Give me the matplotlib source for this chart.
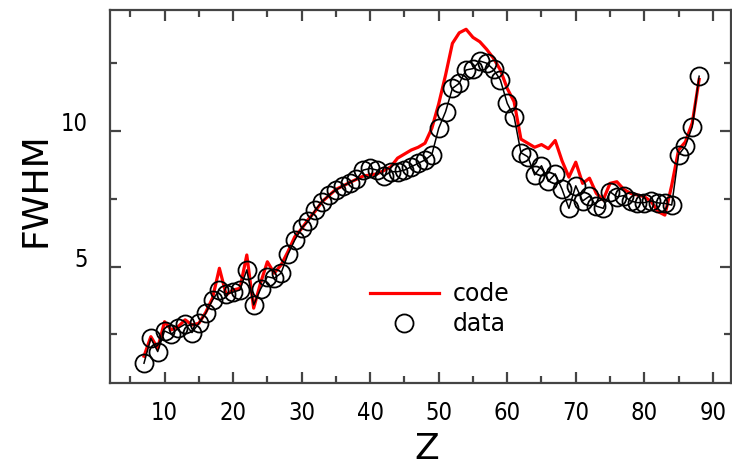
import matplotlib
matplotlib.use("Agg")
import matplotlib.pyplot as plt
from matplotlib.ticker import MultipleLocator

# atomic number
z = list(range(7, 89))

# measured widths (open circles)
fwhm_data = [
    1.44, 2.36, 1.87, 2.63, 2.51, 2.73, 2.88, 2.57, 2.91, 3.28,   # 7-16
    3.77, 4.14, 3.99, 4.06, 4.14, 4.88, 3.59, 4.17, 4.63, 4.57,   # 17-26
    4.76, 5.45, 5.98, 6.42, 6.68, 7.09, 7.40, 7.64, 7.83, 7.97,   # 27-36
    8.10, 8.22, 8.56, 8.62, 8.56, 8.34, 8.50, 8.50, 8.56, 8.68,   # 37-46
    8.81, 8.93, 9.13, 10.10, 10.71, 11.57, 11.76, 12.25, 12.30, 12.58,  # 47-56
    12.50, 12.27, 11.88, 11.02, 10.53, 9.20, 9.05, 8.38, 8.72, 8.14,   # 57-66
    8.42, 7.85, 7.15, 7.98, 7.42, 7.60, 7.23, 7.15, 7.76, 7.57,   # 67-76
    7.62, 7.42, 7.36, 7.36, 7.42, 7.35, 7.33, 7.27, 9.12, 9.45,   # 77-86
    10.16, 12.02,                                                 # 87-88
]

# calculated widths (red line)
fwhm_code = [
    1.70, 2.42, 1.99, 2.97, 2.67, 2.79, 3.04, 2.85, 2.91, 3.31,   # 7-16
    3.84, 4.94, 3.96, 4.14, 4.20, 5.43, 3.47, 4.39, 5.18, 4.76,   # 17-26
    5.06, 5.55, 6.10, 6.40, 6.75, 7.05, 7.40, 7.62, 7.85, 7.97,   # 27-36
    8.10, 8.22, 8.34, 8.38, 8.42, 8.54, 8.68, 9.00, 9.15, 9.30,   # 37-46
    9.40, 9.55, 10.10, 11.00, 12.06, 13.23, 13.62, 13.75, 13.45, 13.29,  # 47-56
    13.01, 12.68, 12.25, 11.57, 11.08, 9.70, 9.55, 9.40, 9.50, 9.35,   # 57-66
    9.65, 8.90, 8.30, 8.85, 8.07, 8.26, 7.70, 7.46, 8.07, 8.13,   # 67-76
    7.85, 7.70, 7.64, 7.58, 7.40, 7.03, 6.90, 8.00, 9.30, 9.60,   # 77-86
    10.30, 11.90,                                                 # 87-88
]

FRAME = "#444444"

fig = plt.figure(figsize=(7.32, 4.68), dpi=100, facecolor="white")
ax = fig.add_axes([0.1499, 0.181, 0.8492, 0.7976])

ax.plot(z, fwhm_code, color="#ff0000", lw=2.3, label="code", zorder=2)
ax.plot(z, fwhm_data, color="black", lw=1.1, marker="o", ms=13,
        mfc="none", mec="black", mew=1.3, zorder=3)
# legend entry for the circles only
ax.plot([], [], ls="none", marker="o", ms=13, mfc="none", mec="black",
        mew=1.3, label="data")

ax.set_xlim(2.0, 92.7)
ax.set_ylim(0.7, 14.46)

ax.xaxis.set_major_locator(MultipleLocator(10))
ax.xaxis.set_minor_locator(MultipleLocator(5))
ax.yaxis.set_major_locator(MultipleLocator(5))
ax.yaxis.set_minor_locator(MultipleLocator(2.5))

for spine in ax.spines.values():
    spine.set_color(FRAME)
    spine.set_linewidth(1.6)
ax.tick_params(which="both", direction="in", top=True, right=True,
               color=FRAME, width=1.6, labelsize=17)
ax.tick_params(which="major", length=8)
ax.tick_params(which="minor", length=5)
ax.tick_params(axis="x", which="major", pad=13)
ax.tick_params(axis="y", which="major", pad=16)

for lab in ax.get_xticklabels() + ax.get_yticklabels():
    lab.set_family("DejaVu Sans")
    lab.set_stretch("condensed")
for lab in ax.get_yticklabels():
    lab.set_verticalalignment("baseline")

ax.set_xlabel("Z", fontsize=26, family="DejaVu Sans")
ax.set_ylabel("FWHM", fontsize=26, family="DejaVu Sans")
ax.xaxis.set_label_coords(0.510, -0.2215)
ax.xaxis.label.set_verticalalignment("bottom")
ax.yaxis.set_label_coords(-0.104, 0.519)
ax.yaxis.label.set_verticalalignment("baseline")

leg = ax.legend(loc="upper left", bbox_to_anchor=(0.419, 0.271),
                frameon=False, fontsize=17, handlelength=2.9,
                handletextpad=0.6, labelspacing=0.25, borderpad=0,
                borderaxespad=0, numpoints=1)

fig.savefig("out.png", dpi=100)
